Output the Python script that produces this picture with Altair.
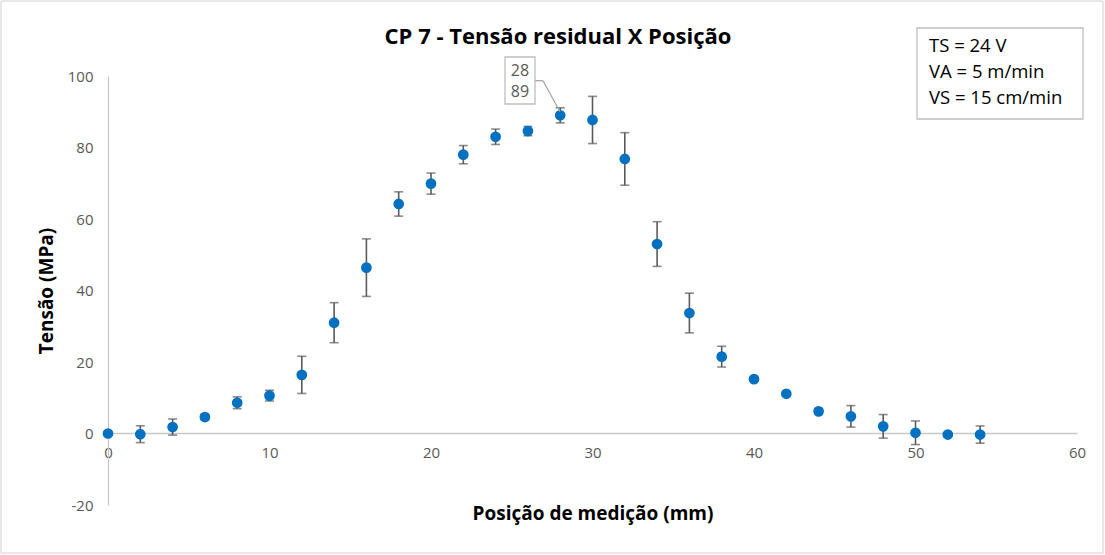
import altair as alt
import pandas as pd

# Data
posicao = [0, 2, 4, 6, 8, 10, 12, 14, 16, 18, 20, 22, 24, 26, 28,
           30, 32, 34, 36, 38, 40, 42, 44, 46, 48, 50, 52, 54]
tensao = [0.0, -0.2, 1.8, 4.6, 8.6, 10.6, 16.4, 31.0, 46.4, 64.2, 69.9, 78.0, 83.0, 84.6, 89.0,
          87.7, 76.8, 53.0, 33.7, 21.5, 15.2, 11.1, 6.2, 4.8, 2.0, 0.2, -0.3, -0.3]
erro = [0.0, 2.35, 2.25, 0.8, 1.65, 1.5, 5.2, 5.6, 8.05, 3.4, 2.95, 2.55, 2.15, 1.3, 2.1,
        6.6, 7.35, 6.25, 5.55, 2.9, 0.5, 0.5, 0.8, 3.0, 3.3, 3.3, 0.5, 2.4]

x_ticks = [0, 10, 20, 30, 40, 50, 60]
y_ticks = [-20, 0, 20, 40, 60, 80, 100]

titulo = "CP 7 - Tensão residual X Posição"
x_titulo = "Posição de medição (mm)"
y_titulo = "Tensão (MPa)"
legenda = ["TS = 24 V", "VA = 5 m/min", "VS = 15 cm/min"]
rotulo = ["28", "89"]

df = pd.DataFrame({"x": posicao, "y": tensao, "e": erro})
df["lo"] = df["y"] - df["e"]
df["hi"] = df["y"] + df["e"]

FONT = "Open Sans"
W, H = 969, 429

xs = alt.Scale(domain=[0, 60], nice=False, zero=False)
ys = alt.Scale(domain=[-20, 100], nice=False, zero=False)

base = alt.Chart(df)

x_enc = alt.X("x:Q", scale=xs,
              axis=alt.Axis(values=x_ticks, title=x_titulo, offset=-72, ticks=False,
                            grid=False, domainColor="#c8c8c8", domainWidth=1.3,
                            labelColor="#595959", labelFontSize=15, labelFont=FONT,
                            labelPadding=12, labelFlush=False, labelOverlap=False,
                            labelExpr="toString(datum.value)",
                            titleFont=FONT, titleFontSize=19,
                            titleFontWeight="bold", titleColor="#000000",
                            titlePadding=44))
y_enc = alt.Y("y:Q", scale=ys,
              axis=alt.Axis(values=y_ticks, title=y_titulo, ticks=False, grid=False,
                            domainColor="#c8c8c8", domainWidth=1.3,
                            labelColor="#595959", labelFontSize=15, labelFont=FONT,
                            labelPadding=15, labelFlush=False, labelOverlap=False,
                            labelExpr="toString(datum.value)",
                            titleFont=FONT, titleFontSize=19,
                            titleFontWeight="bold", titleColor="#000000",
                            titlePadding=11))

bars = base.mark_rule(color="#5a5a5a", strokeWidth=1.6).encode(
    x=alt.X("x:Q", scale=xs), y=alt.Y("lo:Q", scale=ys), y2="hi:Q")
caps_lo = base.mark_tick(color="#5a5a5a", orient="horizontal", size=9, thickness=1.6).encode(
    x=alt.X("x:Q", scale=xs), y=alt.Y("lo:Q", scale=ys))
caps_hi = base.mark_tick(color="#5a5a5a", orient="horizontal", size=9, thickness=1.6).encode(
    x=alt.X("x:Q", scale=xs), y=alt.Y("hi:Q", scale=ys))
pts = base.mark_point(filled=True, shape="circle", size=115, color="#0070C0", opacity=1).encode(
    x=x_enc, y=y_enc)

# title
title_df = pd.DataFrame({"t": [titulo]})
title_mark = alt.Chart(title_df).mark_text(font=FONT, fontSize=22, fontWeight="bold",
                                           color="#000000", align="center", baseline="middle").encode(
    text="t:N", x=alt.value(450), y=alt.value(-39))

# outer border
border = alt.Chart(title_df).mark_rect(fill=None, stroke="#d0d0d0", strokeWidth=1).encode(
    x=alt.value(-107), x2=alt.value(995), y=alt.value(-75), y2=alt.value(477))

# legend box
leg_box = alt.Chart(title_df).mark_rect(fill="white", stroke="#bfbfbf", strokeWidth=1.3).encode(
    x=alt.value(809), x2=alt.value(975), y=alt.value(-48), y2=alt.value(43))
leg_txt = []
for i, t in enumerate(legenda):
    leg_txt.append(alt.Chart(pd.DataFrame({"t": [t]})).mark_text(
        font=FONT, fontSize=18.5, color="#000000", align="left", baseline="middle").encode(
        text="t:N", x=alt.value(821), y=alt.value(-30 + 26 * i)))

# data label for the maximum point
lab_box = alt.Chart(title_df).mark_rect(fill="white", stroke="#bfbfbf", strokeWidth=1.3).encode(
    x=alt.value(397), x2=alt.value(427), y=alt.value(-19), y2=alt.value(28))
lab_txt = []
for i, t in enumerate(rotulo):
    lab_txt.append(alt.Chart(pd.DataFrame({"t": [t]})).mark_text(
        font=FONT, fontSize=16, color="#595959", align="center", baseline="middle").encode(
        text="t:N", x=alt.value(412), y=alt.value(-5 + 21 * i)))
lead1 = alt.Chart(title_df).mark_rule(color="#a6a6a6", strokeWidth=1.3).encode(
    x=alt.value(427), x2=alt.value(435), y=alt.value(4.7), y2=alt.value(4.7))
lead2 = alt.Chart(title_df).mark_rule(color="#a6a6a6", strokeWidth=1.3).encode(
    x=alt.value(435), x2=alt.value(452), y=alt.value(4.7), y2=alt.value(35.7))

chart = alt.layer(
    border, bars, caps_lo, caps_hi, pts, title_mark, leg_box, *leg_txt,
    lead1, lead2, lab_box, *lab_txt
).properties(
    width=W, height=H,
    autosize=alt.AutoSizeParams(type="none"),
    padding={"left": 108, "top": 76, "right": 28, "bottom": 50},
    background="white",
).configure_view(stroke=None)

chart.save("out.html", embed_options={"renderer": "svg", "actions": False})
